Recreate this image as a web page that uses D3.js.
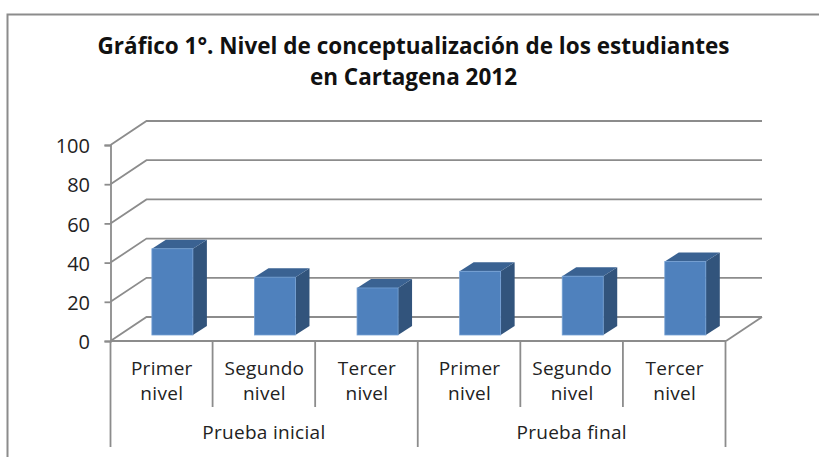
<!DOCTYPE html>
<html>
<head>
<meta charset="utf-8">
<script src="https://cdn.jsdelivr.net/npm/d3@7"></script>
<style>
  html, body { margin: 0; padding: 0; background: #fff; }
  svg { display: block; }
  text { font-family: "Open Sans", "Noto Sans", sans-serif; fill: #222; }
</style>
</head>
<body>
<div id="graph"></div>
<script>
let titleLines = ["Gráfico 1°. Nivel de conceptualización de los estudiantes", "en Cartagena 2012"];
let groups = ["Prueba inicial", "Prueba final"];
let levels = [["Primer", "nivel"], ["Segundo", "nivel"], ["Tercer", "nivel"]];
let categories = ["i1", "i2", "i3", "f1", "f2", "f3"];
let values = [44, 29.5, 24, 32.5, 30, 37.5];
let yTicks = [0, 20, 40, 60, 80, 100];

let width = 819, height = 457;
let svg = d3.select("#graph").append("svg").attr("width", width).attr("height", height);
let grey = "#8c8c8c";

// Chart frame, cut off by the picture on the right and at the bottom
svg.append("path")
  .attr("d", "M7.5,457V14.5H819")
  .attr("fill", "none").attr("stroke", grey).attr("stroke-width", 2);

// Title
svg.append("g").selectAll("text").data(titleLines).join("text")
  .attr("x", 413.5)
  .attr("y", (d, i) => 54 + i * 31)
  .attr("text-anchor", "middle")
  .attr("font-size", 22.5)
  .attr("font-weight", 700)
  .style("fill", "#111")
  .text(d => d);

// Scales
let x = d3.scaleBand().domain(categories).range([110.5, 726]);
let y = d3.scaleLinear().domain([0, 100]).range([341, 145]);
let depth = {x: 36, y: -24};
let barDepth = {x: 14, y: -9};
let barFront = {x: 10.6, y: -6};

// Gridlines, side wall and back wall
let wall = svg.append("g").attr("fill", "none").attr("stroke", grey).attr("stroke-width", 1.8);
yTicks.forEach(t => {
  wall.append("path")
    .attr("d", "M" + (x.range()[0]) + "," + y(t) +
      "L" + (x.range()[0] + depth.x) + "," + (y(t) + depth.y) + "H762");
});
// Floor edge on the right
wall.append("path")
  .attr("d", "M" + x.range()[1] + "," + y(0) + "L762," + (y(0) + depth.y));

// Bars
let bars = svg.append("g").selectAll("g").data(values).join("g");
let barW = 41;
let barX = (d, i) => x(categories[i]) + (x.bandwidth() - barW) / 2 + barFront.x;
let topY = d => y(d) + barFront.y;
let baseY = y(0) + barFront.y;
bars.append("path") // right side
  .attr("fill", "#32547c")
  .attr("d", (d, i) => {
    let r = barX(d, i) + barW;
    return "M" + r + "," + topY(d) + "l" + barDepth.x + "," + barDepth.y +
      "V" + (baseY + barDepth.y) + "L" + r + "," + baseY + "Z";
  });
bars.append("path") // top
  .attr("fill", "#3a6292")
  .attr("d", (d, i) => {
    let l = barX(d, i);
    return "M" + l + "," + topY(d) + "l" + barDepth.x + "," + barDepth.y +
      "h" + barW + "l" + (-barDepth.x) + "," + (-barDepth.y) + "Z";
  });
bars.append("rect") // front
  .attr("fill", "#4f81bd")
  .attr("stroke", "#74a0d4")
  .attr("stroke-width", 0.8)
  .attr("x", barX)
  .attr("y", topY)
  .attr("width", barW)
  .attr("height", d => baseY - topY(d));

// Y axis
let axisY = d3.axisLeft(y).tickValues(yTicks).tickSize(6).tickPadding(14.5);
let gy = svg.append("g").attr("transform", "translate(" + x.range()[0] + ",0)").call(axisY);
gy.selectAll("line,path").attr("stroke", grey).attr("stroke-width", 1.8);
gy.selectAll("text").attr("font-size", 20).attr("dy", "0.38em").attr("font-family", "Open Sans").style("fill", "#222");

// Category axis, multi level
let axis = svg.append("g").attr("stroke", grey).attr("stroke-width", 1.8);
axis.append("line")
  .attr("x1", x.range()[0]).attr("x2", x.range()[1])
  .attr("y1", y(0)).attr("y2", y(0));
categories.forEach((c, i) => {
  let xp = x(c) + x.bandwidth();
  let long = i === 2 || i === 5;
  axis.append("line")
    .attr("x1", xp - 0.5).attr("x2", xp - 0.5)
    .attr("y1", y(0)).attr("y2", long ? 447 : 407);
  svg.append("g").selectAll("text").data(levels[i % 3]).join("text")
    .attr("x", x(c) + x.bandwidth() / 2)
    .attr("y", (d, j) => 375 + j * 25)
    .attr("text-anchor", "middle")
    .attr("font-size", 19)
    .attr("letter-spacing", 0.3)
    .text(d => d);
});
axis.append("line")
  .attr("x1", x.range()[0]).attr("x2", x.range()[0])
  .attr("y1", y(0)).attr("y2", 447);

groups.forEach((g, i) => {
  svg.append("text")
    .attr("x", x(categories[i * 3]) + x.bandwidth() * 1.5 - 0.5)
    .attr("y", 439)
    .attr("text-anchor", "middle")
    .attr("font-size", 19)
    .attr("letter-spacing", 0.3)
    .text(g);
});
</script>
</body>
</html>
